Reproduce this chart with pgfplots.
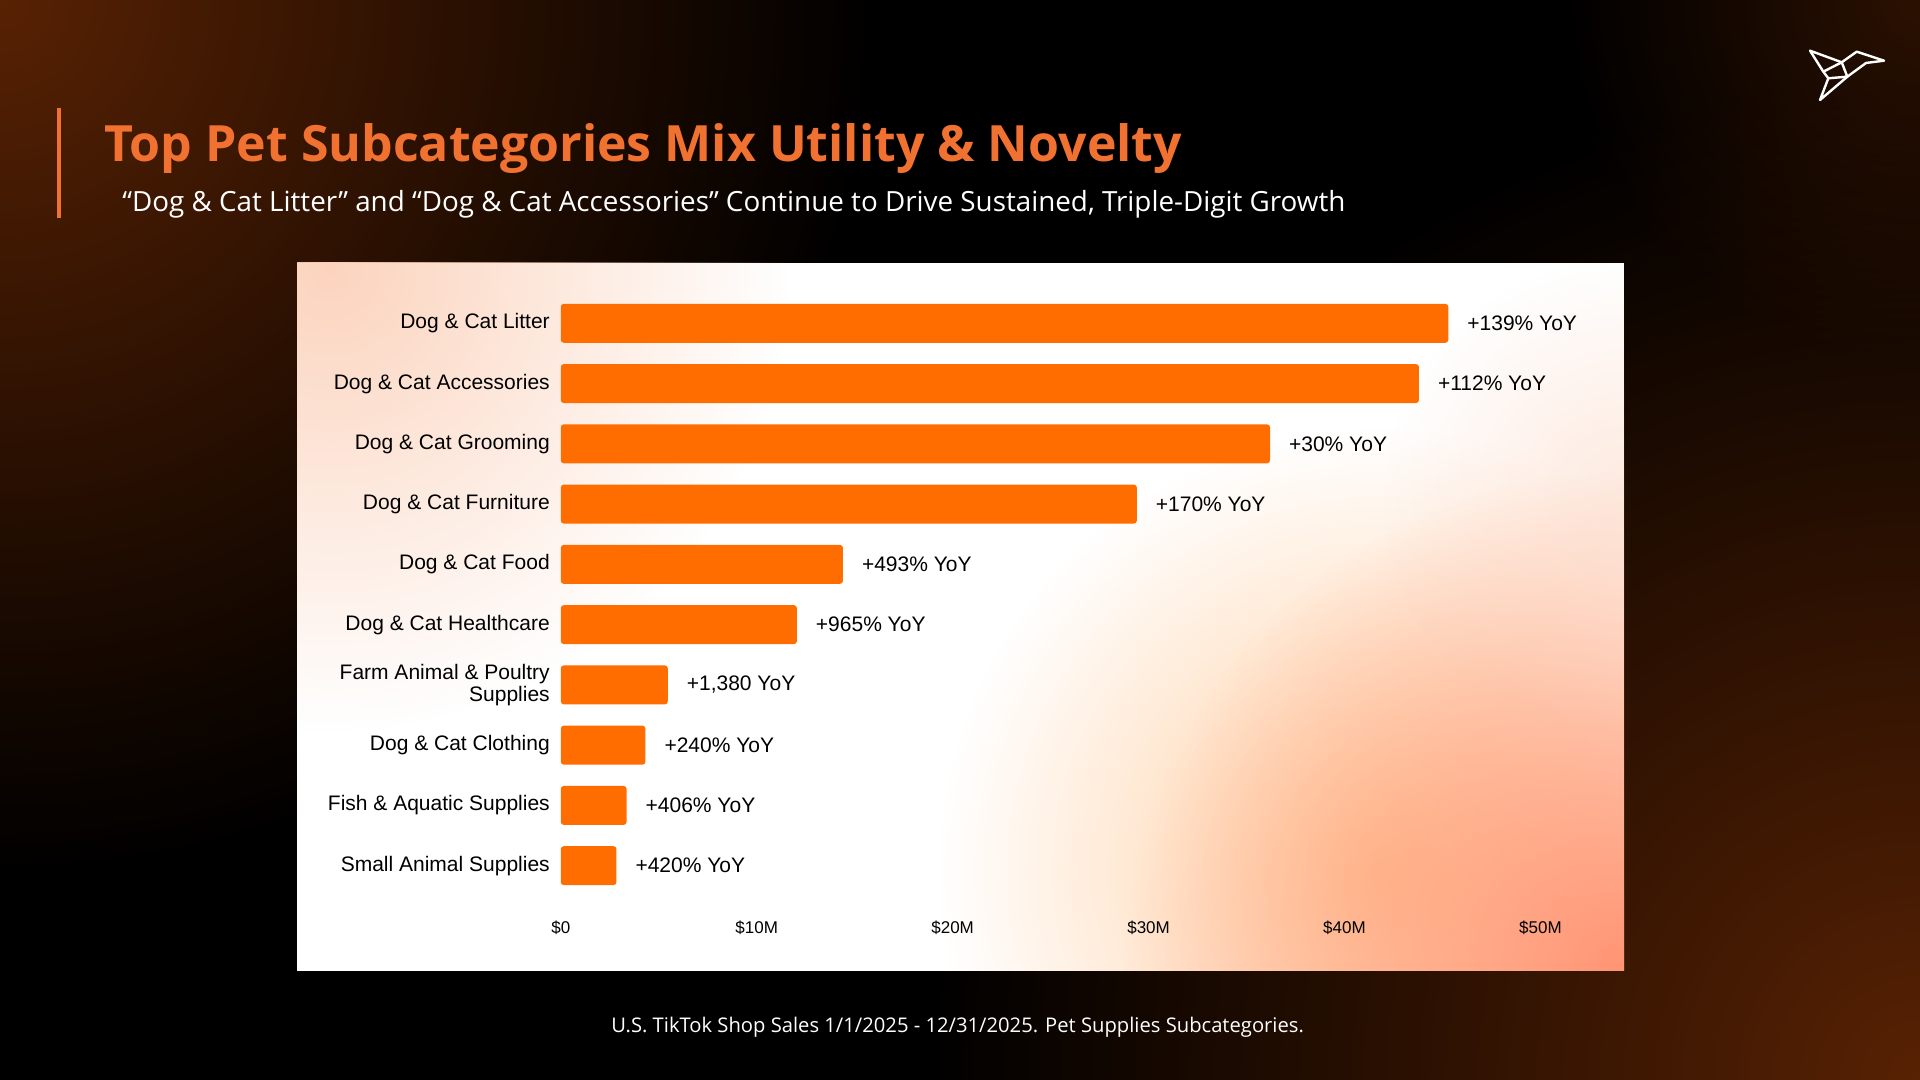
\documentclass[border=0pt]{standalone}
\usepackage{pgfplots}
\pgfplotsset{compat=1.18}
\usepackage{fontspec}
\setmainfont{Liberation Sans}
\newfontfamily\titlefont{Open Sans}
\newfontfamily\subfont{Open Sans}
\usetikzlibrary{fadings}
\tikzfading[name=glow, inner color=transparent!0, outer color=transparent!100]
\definecolor{barorange}{RGB}{255,108,0}
\definecolor{titleorange}{RGB}{241,114,48}
\definecolor{bgbrown}{RGB}{88,34,4}
\definecolor{peach}{RGB}{252,212,190}
\definecolor{salmon}{RGB}{255,148,115}
\definecolor{apricot}{RGB}{255,196,140}
\begin{document}
\begin{tikzpicture}[x=1pt,y=1pt]
% page background
\fill[black] (0,0) rectangle (960,540);
\begin{scope}
\clip (0,0) rectangle (960,540);
\fill[bgbrown, path fading=glow] (0,540) circle (440);
\fill[bgbrown, path fading=glow] (960,0) circle (500);
\fill[bgbrown, path fading=glow, fill opacity=0.5] (960,540) circle (180);
\end{scope}
% accent bar
\draw[titleorange, line width=2pt] (29.5,486) -- (29.5,431);
% title and subtitle
\node[anchor=base west, inner sep=0pt, text=titleorange] at (52,459.15)
  {\titlefont\bfseries\fontsize{25}{28}\selectfont Top Pet Subcategories Mix Utility \& Novelty};
\node[anchor=base west, inner sep=0pt, text=white] at (61,434.15)
  {\subfont\fontsize{13.9}{15}\selectfont “Dog \& Cat Litter” and “Dog \& Cat Accessories” Continue to Drive Sustained, Triple-Digit Growth};
% footnote
\node[anchor=base, inner sep=0pt, text=white] at (478.8,23.65)
  {\subfont\fontsize{10.1}{12}\selectfont U.S. TikTok Shop Sales 1/1/2025 - 12/31/2025. Pet Supplies Subcategories.};
% logo
\draw[white, line width=1.2pt, line join=round]
  (905,514.65) -- (920.85,508.85) -- (928.35,514.15) -- (942,509.65) -- (933,508.5)
  -- (923.65,501.65) -- (910,490) -- (914.15,500.85) -- (911.65,504.15) -- cycle;
\draw[white, line width=1.2pt, line join=round]
  (911.65,504.15) -- (920.85,508.85) -- (923.65,501.65) -- (914.15,500.85);
% panel
\fill[white] (148.5,54.5) rectangle (812,408.5);
\begin{scope}
\clip (148.5,54.5) rectangle (812,408.5);
\fill[peach, path fading=glow] (165,405) circle (230);
\fill[apricot, path fading=glow, fill opacity=0.85] (690,105) circle (220);
\fill[salmon, path fading=glow] (812,54.5) circle (250);
\fill[peach, path fading=glow, fill opacity=0.5] (812,290) circle (120);
\end{scope}
\begin{axis}[
  at={(280.4pt,92.1pt)}, anchor=south west,
  width=489.8pt, height=301.3pt, scale only axis,
  xbar, bar width=19.5pt,
  xmin=0, xmax=50, ymin=-0.5, ymax=9.5, y dir=reverse,
  ytick={0,...,9},
  yticklabels={Dog \& Cat Litter, Dog \& Cat Accessories, Dog \& Cat Grooming, Dog \& Cat Furniture, Dog \& Cat Food, Dog \& Cat Healthcare, {Farm Animal \& Poultry\\Supplies}, Dog \& Cat Clothing, Fish \& Aquatic Supplies, Small Animal Supplies},
  xtick={0,10,20,30,40,50},
  xticklabels={\$0,\$10M,\$20M,\$30M,\$40M,\$50M},
  axis line style={draw=none}, major tick length=0pt,
  yticklabel style={font=\fontsize{10.5}{11}\selectfont, align=right, xshift=-2pt, text=black},
  xticklabel style={font=\fontsize{8.5}{10}\selectfont, yshift=-9pt, text=black},
  /pgf/number format/assume math mode=true,
  nodes near coords, point meta=explicit symbolic,
  nodes near coords style={font=\fontsize{10.5}{12}\selectfont, anchor=west, xshift=6pt, text=black},
  clip=false,
]
\addplot[fill=barorange, draw=none, rounded corners=1.5pt] coordinates {
  (45.3,0) [+139\% YoY]
  (43.8,1) [+112\% YoY]
  (36.2,2) [+30\% YoY]
  (29.4,3) [+170\% YoY]
  (14.4,4) [+493\% YoY]
  (12.05,5) [+965\% YoY]
  (5.46,6) [+1,380 YoY]
  (4.32,7) [+240\% YoY]
  (3.36,8) [+406\% YoY]
  (2.84,9) [+420\% YoY]
};
\end{axis}
\end{tikzpicture}
\end{document}
